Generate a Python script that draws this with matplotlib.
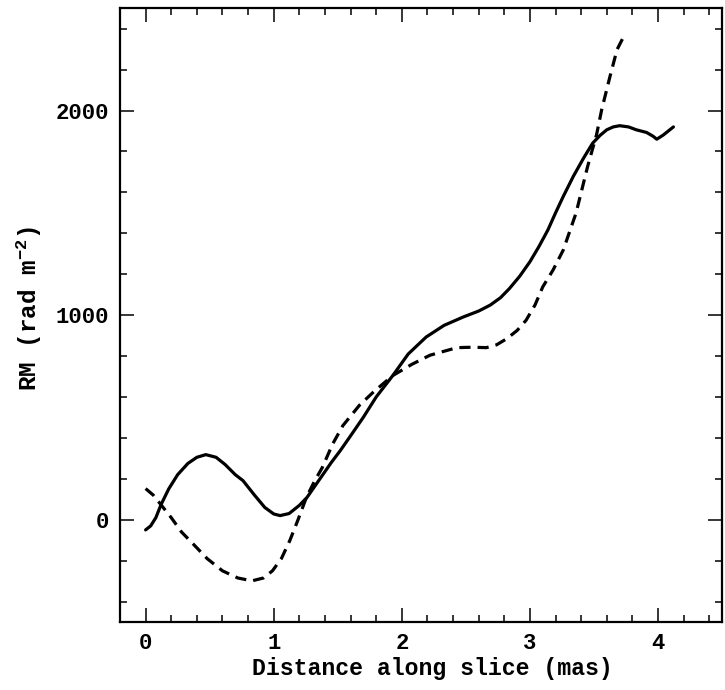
import matplotlib
matplotlib.use("Agg")
import matplotlib.pyplot as plt
from matplotlib.ticker import MultipleLocator

# --- RM profiles (distance in mas, RM in rad m^-2) ---
solid_x = [0.00, 0.04, 0.08, 0.12, 0.18, 0.25, 0.33, 0.40, 0.47, 0.55, 0.62, 0.70,
           0.76, 0.85, 0.93, 1.00, 1.05, 1.12, 1.20, 1.26, 1.35, 1.45, 1.52, 1.60,
           1.70, 1.80, 1.93, 2.05, 2.19, 2.33, 2.48, 2.60, 2.69, 2.77, 2.84, 2.92,
           3.00, 3.07, 3.14, 3.20, 3.26, 3.34, 3.42, 3.49, 3.55, 3.60, 3.65, 3.70,
           3.77, 3.83, 3.91, 3.96, 3.99, 4.04, 4.08, 4.12]
solid_y = [-50, -30, 10, 73, 150, 220, 275, 305, 318, 305, 270, 220,
           191, 120, 60, 28, 20, 30, 70, 109, 190, 280, 338, 410,
           501, 600, 705, 810, 893, 950, 991, 1020, 1049, 1085, 1130, 1190,
           1261, 1335, 1416, 1500, 1580, 1680, 1769, 1841, 1880, 1906, 1920, 1926,
           1920, 1906, 1893, 1875, 1860, 1880, 1900, 1920]

dash_x = [0.00, 0.06, 0.12, 0.20, 0.28, 0.37, 0.48, 0.60, 0.72, 0.83, 0.92, 0.99,
          1.06, 1.125, 1.19, 1.255, 1.32, 1.38, 1.46, 1.54, 1.67, 1.78, 1.93,
          2.08, 2.22, 2.43, 2.55, 2.66, 2.74, 2.82, 2.90, 2.97, 3.04, 3.10, 3.18,
          3.26, 3.36, 3.45, 3.52, 3.56, 3.625, 3.68, 3.74]
dash_y = [152, 120, 73, 10, -60, -118, -190, -250, -285, -299, -285, -250,
          -190, -103, 0, 109, 190, 256, 370, 460, 560, 625, 705,
          760, 804, 841, 843, 841, 855, 885, 925, 975, 1050, 1138, 1220,
          1318, 1499, 1726, 1882, 2004, 2167, 2298, 2372]

# wide slab-serif look of the original (PGPLOT style)
plt.rcParams["font.family"] = ["Liberation Mono", "DejaVu Sans"]
plt.rcParams["font.weight"] = "bold"
plt.rcParams["mathtext.fontset"] = "custom"
plt.rcParams["mathtext.rm"] = "Liberation Mono:bold"
plt.rcParams["mathtext.bf"] = "Liberation Mono:bold"
plt.rcParams["mathtext.it"] = "Liberation Mono:bold"

fig = plt.figure(figsize=(7.25, 6.9), dpi=100)
ax = fig.add_axes([0.1655, 0.0986, 0.8305, 0.8894])

ax.plot(solid_x, solid_y, color="black", linewidth=2.3, solid_capstyle="round",
        solid_joinstyle="round")
ax.plot(dash_x, dash_y, color="black", linewidth=2.3, linestyle=(0, (3.5, 2.2)))

ax.set_xlim(-0.2, 4.5)
ax.set_ylim(-500, 2500)

ax.xaxis.set_major_locator(MultipleLocator(1))
ax.xaxis.set_minor_locator(MultipleLocator(0.2))
ax.yaxis.set_major_locator(MultipleLocator(1000))
ax.yaxis.set_minor_locator(MultipleLocator(200))

ax.tick_params(which="both", direction="in", top=True, right=True, width=1.1)
ax.tick_params(which="major", length=10, labelsize=16, pad=8)
ax.tick_params(which="minor", length=5)
for s in ax.spines.values():
    s.set_linewidth(1.6)

ax.set_xlabel("Distance along slice (mas)", fontsize=16.7, fontweight="bold")
ax.xaxis.set_label_coords(0.518, -0.057)
ax.set_ylabel("RM (rad m$^{-2}$)", fontsize=17.5, fontweight="bold")
ax.yaxis.set_label_coords(-0.127, 0.511)

fig.savefig("out.png", dpi=100)
